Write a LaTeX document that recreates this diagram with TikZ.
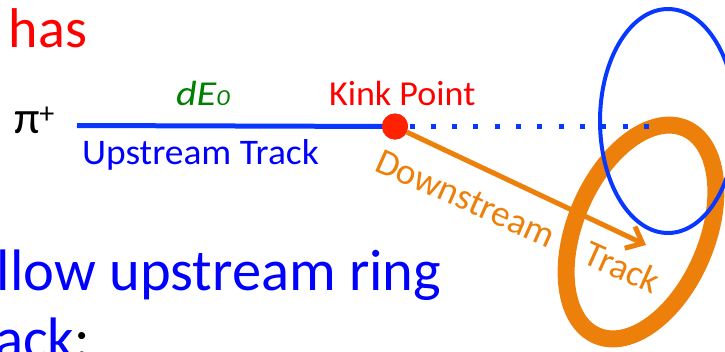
\documentclass[tikz,border=0pt]{standalone}
\usepackage{fontspec}
\usepackage{graphicx}
\setmainfont{Carlito}
\usetikzlibrary{arrows.meta}
\definecolor{tblue}{RGB}{0,0,255}
\definecolor{lblue}{RGB}{8,56,255}
\definecolor{tred}{RGB}{255,0,0}
\definecolor{dotred}{RGB}{255,34,0}
\definecolor{tgreen}{RGB}{0,128,0}
\definecolor{torange}{RGB}{237,128,10}
\newcommand{\fsz}[1]{\fontsize{#1}{#1}\selectfont}
\tikzset{
  lbl/.style={inner sep=0pt, outer sep=0pt, anchor=base west},
  trackline/.style={line width=5pt},
}
\begin{document}
\begin{tikzpicture}[x=1pt,y=-1pt]
\useasboundingbox (0,0) rectangle (725,351);
\clip (0,0) rectangle (725,351);
% rings
\draw[torange, line width=17pt, rotate around={67:(641,232)}] (641,232) ellipse [x radius=112.7, y radius=65.8];
\draw[lblue, line width=4pt] (668,121) ellipse [x radius=68, y radius=112];
% tracks
\coordinate (ustart) at (77,125.5);
\node[circle, fill=dotred, minimum size=26pt, inner sep=0pt] (kink) at (395,126.5) {};
\coordinate (dstart) at (409.5,126.5);
\coordinate (dend) at (649,126.5);
\coordinate (tip) at (646,245);
\draw[lblue, trackline, dash pattern=on 5pt off 16.3pt] (dstart) -- (dend);
\draw[lblue, trackline] (ustart) -- (kink.center);
\draw[torange, trackline, -{Straight Barb[length=14pt,width=24pt]}] (kink) -- (tip);
\node[circle, fill=dotred, minimum size=26pt, inner sep=0pt] at (kink) {};
% labels
\node[lbl, text=tred, font=\fsz{56}] (has) at (9,47) {has};
\node[lbl, text=tblue, font=\fsz{58.5}] (follow) at (-3,290) {llow upstream ring};
\node[lbl, font=\fsz{58.5}] (track2) at (-5,358) {\textcolor{tblue}{ack}:};
\node[lbl, font=\fsz{46}] (pi) at (14,133) {π\raisebox{10pt}{\fsz{30}+}};
\node[lbl, text=tred, font=\fsz{35}] (kinklbl) at (329,105) {\scalebox{1.03}[1]{Kink Point}};
\node[lbl, text=tblue, font=\fsz{36}] (uplbl) at (82,164) {\scalebox{1.04}[1]{Upstream Track}};
\node[lbl, text=tgreen, font=\fsz{35}\itshape] (delbl) at (176,105) {\scalebox{1.15}[1]{dE{\fsz{23}0}}};
\node[lbl, text=torange, font=\fsz{37}, rotate=-24] (downlbl) at (373,170) {Downstream\hspace{36pt}Track};
\end{tikzpicture}
\end{document}
